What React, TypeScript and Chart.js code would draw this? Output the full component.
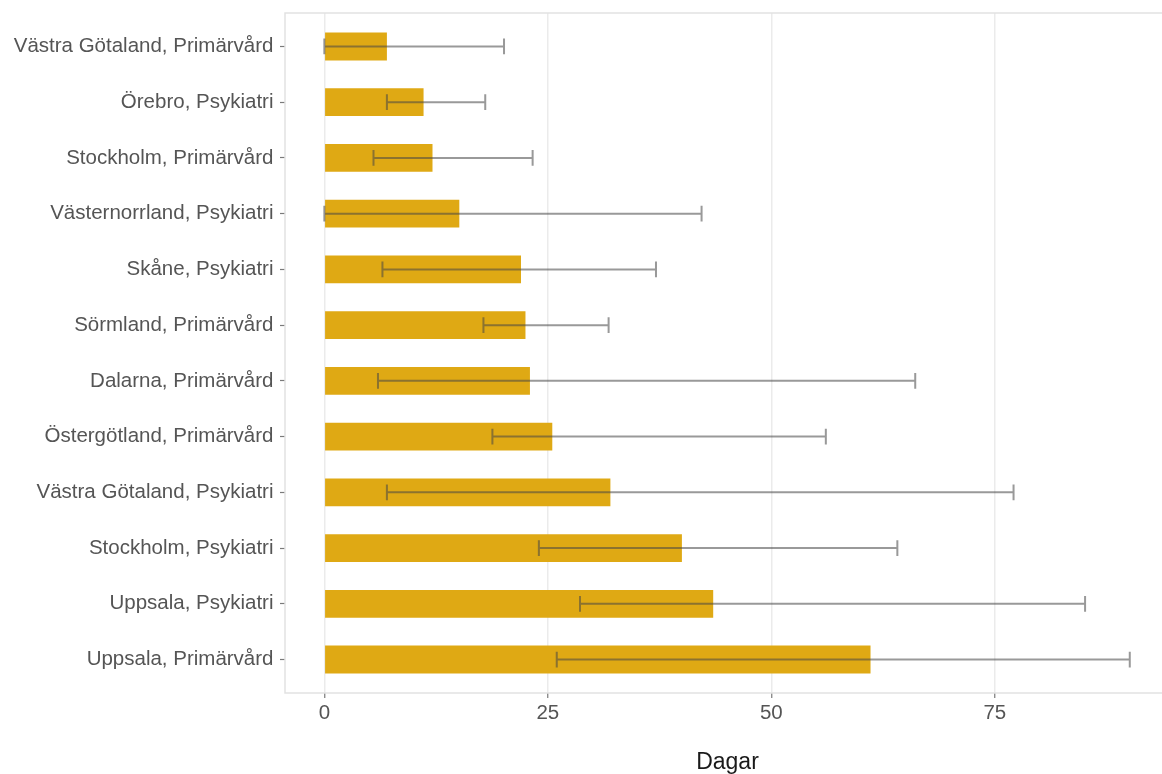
import { useEffect, useRef } from "react";
import { Chart, registerables } from "chart.js";

Chart.register(...registerables);

// Väntetid i dagar per region och verksamhet (median med intervall)
const categories = [
  "Västra Götaland, Primärvård",
  "Örebro, Psykiatri",
  "Stockholm, Primärvård",
  "Västernorrland, Psykiatri",
  "Skåne, Psykiatri",
  "Sörmland, Primärvård",
  "Dalarna, Primärvård",
  "Östergötland, Primärvård",
  "Västra Götaland, Psykiatri",
  "Stockholm, Psykiatri",
  "Uppsala, Psykiatri",
  "Uppsala, Primärvård",
];
const medianDays = [7.0, 11.1, 12.1, 15.1, 22.0, 22.5, 23.0, 25.5, 32.0, 40.0, 43.5, 61.1];
const lowerDays = [0.0, 7.0, 5.5, 0.0, 6.5, 17.8, 6.0, 18.8, 7.0, 24.0, 28.6, 26.0];
const upperDays = [20.1, 18.0, 23.3, 42.2, 37.1, 31.8, 66.1, 56.1, 77.1, 64.1, 85.1, 90.1];
const xTicks = [0, 25, 50, 75];
const xTitle = "Dagar";

const FONT = '"Liberation Sans", Arial, Helvetica, sans-serif';
const BAR_COLOR = "#DFA914";

// Error bars with end caps, drawn on top of the bars
const errorBars = {
  id: "errorBars",
  afterDatasetsDraw(chart: any) {
    const { ctx, scales } = chart;
    const x = scales.x;
    const y = scales.y;
    const half = Math.abs(y.getPixelForValue(0.141) - y.getPixelForValue(0));
    ctx.save();
    ctx.strokeStyle = "rgba(70,70,70,0.55)";
    ctx.lineWidth = 2;
    categories.forEach((_, i) => {
      const yc = y.getPixelForValue(i);
      const x0 = x.getPixelForValue(lowerDays[i]);
      const x1 = x.getPixelForValue(upperDays[i]);
      ctx.beginPath();
      ctx.moveTo(x0, yc - half);
      ctx.lineTo(x0, yc + half);
      ctx.moveTo(x0, yc);
      ctx.lineTo(x1, yc);
      ctx.moveTo(x1, yc - half);
      ctx.lineTo(x1, yc + half);
      ctx.stroke();
    });
    ctx.restore();
  },
};

// Light frame around the plotting panel
const panelFrame = {
  id: "panelFrame",
  beforeDatasetsDraw(chart: any) {
    const { ctx, chartArea } = chart;
    ctx.save();
    ctx.strokeStyle = "#e2e2e2";
    ctx.lineWidth = 1.5;
    ctx.strokeRect(
      chartArea.left,
      chartArea.top,
      chartArea.right - chartArea.left,
      chartArea.bottom - chartArea.top
    );
    ctx.restore();
  },
};

export default function App() {
  const canvasRef = useRef<HTMLCanvasElement | null>(null);

  useEffect(() => {
    if (!canvasRef.current) return;
    const chart = new Chart(canvasRef.current, {
      type: "bar",
      data: {
        datasets: [
          {
            data: medianDays.map((v, i) => ({ x: v, y: i })),
            backgroundColor: BAR_COLOR,
            borderWidth: 0,
            barPercentage: 0.5,
            categoryPercentage: 1,
          },
        ],
      },
      options: {
        indexAxis: "y",
        responsive: false,
        animation: false,
        layout: { padding: { top: 13, right: 1, left: 0, bottom: 0 } },
        plugins: {
          legend: { display: false },
          tooltip: { enabled: false },
        },
        scales: {
          x: {
            type: "linear",
            min: -4.4,
            max: 94.6,
            afterBuildTicks: (s: any) => {
              s.ticks = xTicks.map((value) => ({ value }));
            },
            afterFit: (s: any) => {
              s.height = 81;
            },
            grid: {
              color: "#ebebeb",
              lineWidth: 1.5,
              tickColor: "#7a7a7a",
              tickLength: 5,
              tickWidth: 1.2,
            },
            border: { display: false },
            ticks: {
              color: "#555555",
              padding: 3,
              font: { family: FONT, size: 20.5 },
              callback: (v: any) => String(v),
            },
            title: {
              display: true,
              text: xTitle,
              color: "#1a1a1a",
              font: { family: FONT, size: 23, lineHeight: 1 },
              padding: 0,
            },
          },
          y: {
            type: "linear",
            min: -0.6,
            max: 11.6,
            reverse: true,
            offset: false,
            afterBuildTicks: (s: any) => {
              s.ticks = categories.map((_, value) => ({ value }));
            },
            afterFit: (s: any) => {
              s.width = 285;
              s.paddingTop = 0;
              s.paddingBottom = 0;
            },
            grid: {
              offset: false,
              drawOnChartArea: false,
              tickColor: "#7a7a7a",
              tickLength: 5,
              tickWidth: 1.2,
            },
            border: { display: false },
            ticks: {
              color: "#555555",
              padding: 6.5,
              font: { family: FONT, size: 20.5 },
              callback: (v: any) => categories[v] ?? "",
            },
          },
        },
      },
      plugins: [panelFrame, errorBars],
    } as any);
    return () => chart.destroy();
  }, []);

  return (
    <div
      style={{
        position: "fixed",
        left: 0,
        top: 0,
        width: 1162,
        height: 774,
        overflow: "hidden",
        background: "#ffffff",
      }}
    >
      <canvas ref={canvasRef} width={1171} height={774} />
    </div>
  );
}
